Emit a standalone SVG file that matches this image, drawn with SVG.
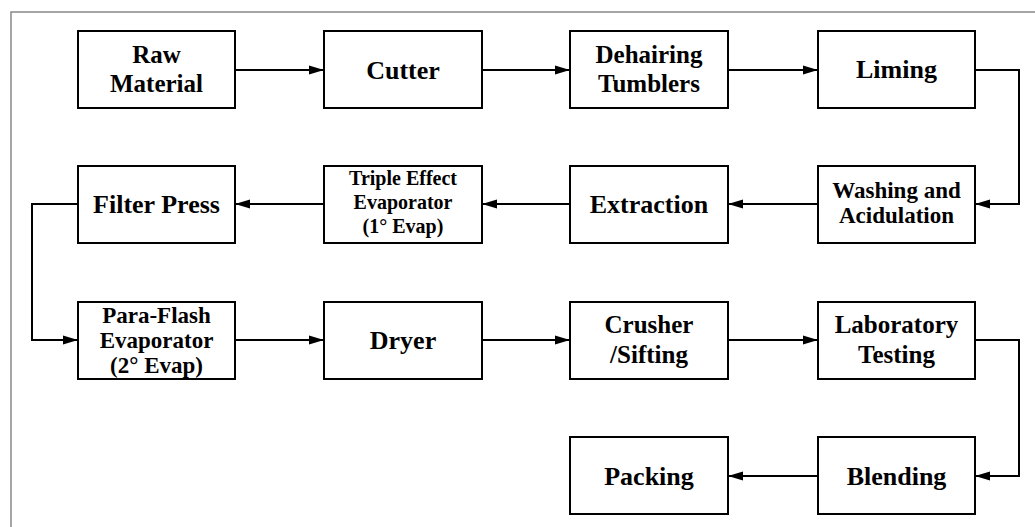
<svg xmlns="http://www.w3.org/2000/svg" width="1035" height="527" viewBox="0 0 1035 527">
<style>
.bx{fill:#fff;stroke:#000;stroke-width:2}
.t{font-family:'Liberation Serif',serif;font-weight:bold;fill:#000;text-anchor:middle}
.s26{font-size:26px}.s25{font-size:25px}.s23{font-size:23px}.s20{font-size:20px}
.c{fill:none;stroke:#000;stroke-width:2}
</style>
<defs>
<marker id="ah" markerWidth="16" markerHeight="10" refX="15" refY="5" orient="auto" markerUnits="userSpaceOnUse">
<path d="M0,0.5 L15,5 L0,9.5 Z" fill="#000"/>
</marker>
</defs>
<rect x="0" y="0" width="1035" height="527" fill="#fff"/>
<path d="M11,527 L11,12 L1035,12" fill="none" stroke="#888" stroke-width="1.5"/>
<g id="connectors">
<path class="c" d="M235,70 L324,70" marker-end="url(#ah)"/>
<path class="c" d="M482,70 L570,70" marker-end="url(#ah)"/>
<path class="c" d="M728,70 L818,70" marker-end="url(#ah)"/>
<path class="c" d="M975,70 L1019,70 L1019,204 L975,204" marker-end="url(#ah)"/>
<path class="c" d="M818,204 L728,204" marker-end="url(#ah)"/>
<path class="c" d="M570,204 L482,204" marker-end="url(#ah)"/>
<path class="c" d="M324,204 L235,204" marker-end="url(#ah)"/>
<path class="c" d="M78,204 L32,204 L32,340 L78,340" marker-end="url(#ah)"/>
<path class="c" d="M235,340 L324,340" marker-end="url(#ah)"/>
<path class="c" d="M482,340 L570,340" marker-end="url(#ah)"/>
<path class="c" d="M728,340 L818,340" marker-end="url(#ah)"/>
<path class="c" d="M975,340 L1019,340 L1019,476 L975,476" marker-end="url(#ah)"/>
<path class="c" d="M818,476 L728,476" marker-end="url(#ah)"/>
</g>
<g id="raw-material"><rect class="bx" x="78" y="31" width="157" height="77"/><text class="t s25" x="156.5" y="63">Raw</text><text class="t s25" x="156.5" y="92">Material</text></g>
<g id="cutter"><rect class="bx" x="324" y="31" width="158" height="77"/><text class="t s26" x="403" y="79">Cutter</text></g>
<g id="dehairing"><rect class="bx" x="570" y="31" width="158" height="77"/><text class="t s25" x="649" y="63">Dehairing</text><text class="t s25" x="649" y="92">Tumblers</text></g>
<g id="liming"><rect class="bx" x="818" y="31" width="157" height="77"/><text class="t s26" x="896.5" y="78">Liming</text></g>
<g id="washing"><rect class="bx" x="818" y="166" width="157" height="77"/><text class="t s23" x="896.5" y="198">Washing and</text><text class="t s23" x="896.5" y="223">Acidulation</text></g>
<g id="extraction"><rect class="bx" x="570" y="166" width="158" height="77"/><text class="t s26" x="649" y="213">Extraction</text></g>
<g id="triple-effect"><rect class="bx" x="324" y="166" width="158" height="77"/><text class="t s20" x="403" y="185">Triple Effect</text><text class="t s20" x="403" y="209">Evaporator</text><text class="t s20" x="403" y="233">(1° Evap)</text></g>
<g id="filter-press"><rect class="bx" x="78" y="166" width="157" height="77"/><text class="t s26" x="156.5" y="213">Filter Press</text></g>
<g id="para-flash"><rect class="bx" x="78" y="302" width="157" height="77"/><text class="t s23" x="156.5" y="323">Para-Flash</text><text class="t s23" x="156.5" y="348">Evaporator</text><text class="t s23" x="156.5" y="373">(2° Evap)</text></g>
<g id="dryer"><rect class="bx" x="324" y="302" width="158" height="77"/><text class="t s26" x="403" y="349">Dryer</text></g>
<g id="crusher"><rect class="bx" x="570" y="302" width="158" height="77"/><text class="t s25" x="649" y="333">Crusher</text><text class="t s25" x="649" y="363">/Sifting</text></g>
<g id="laboratory"><rect class="bx" x="818" y="302" width="157" height="77"/><text class="t s25" x="896.5" y="333">Laboratory</text><text class="t s25" x="896.5" y="363">Testing</text></g>
<g id="blending"><rect class="bx" x="818" y="437" width="157" height="77"/><text class="t s26" x="896.5" y="485">Blending</text></g>
<g id="packing"><rect class="bx" x="570" y="437" width="158" height="77"/><text class="t s26" x="649" y="485">Packing</text></g>
</svg>
